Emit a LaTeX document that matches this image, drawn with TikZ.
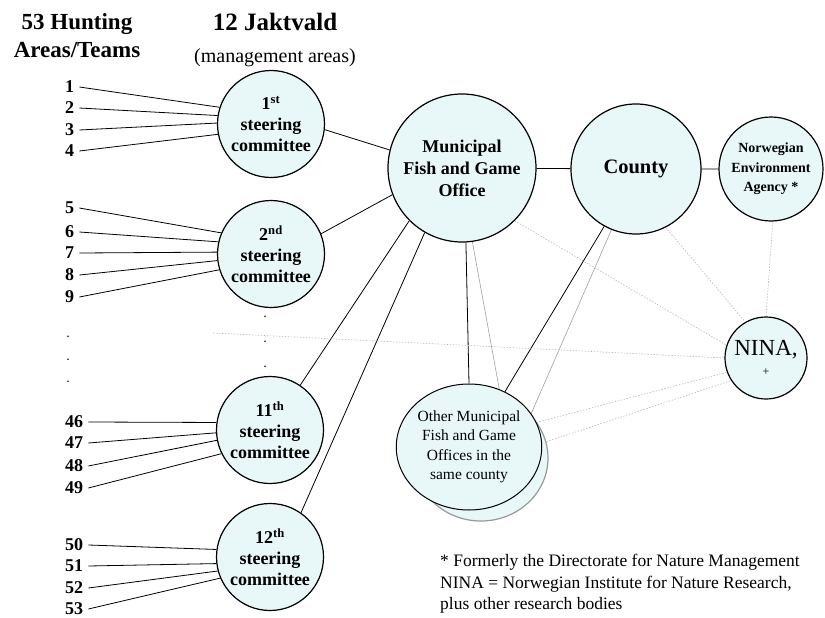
\documentclass[tikz,border=0pt]{standalone}
\usepackage{fontspec}
\setmainfont{Liberation Serif}
\usetikzlibrary{shapes.geometric, backgrounds}
\definecolor{paleblue}{RGB}{232,247,248}

\begin{document}
\begin{tikzpicture}[x = 1pt, y = -1pt,
    org/.style = {shape = circle, draw, fill = paleblue, line width = 1.2pt,
                  inner sep = 0pt, align = center},
    committee/.style = {org, minimum size = 107pt,
                  font = \fontsize{18}{21}\selectfont\bfseries},
    num/.style = {anchor = west, inner xsep = 5pt, inner ysep = 1pt,
                  font = \fontsize{18}{20}\selectfont\bfseries},
    link/.style = {line width = 0.8pt},
    faint/.style = {draw = gray!75, line width = 0.6pt},
    info/.style = {draw = gray!55, line width = 0.6pt,
                   dash pattern = on 1.5pt off 1.5pt}]
  \useasboundingbox (0, 0) rectangle (825, 618);

  % headings
  \node (hunt) at (77, 36) [align = center,
        font = \fontsize{23}{28}\selectfont\bfseries] {53 Hunting\\Areas/Teams};
  \node (jakt) at (275, 22) [font = \fontsize{25}{28}\selectfont\bfseries] {12 Jaktvald};
  \node (mgmt) at (275, 58) [font = \fontsize{20}{22}\selectfont] {(management areas)};

  % steering committees
  \node [committee] (c1)  at (271, 124) {1\textsuperscript{st}\\steering\\committee};
  \node [committee] (c2)  at (271, 254) {2\textsuperscript{nd}\\steering\\committee};
  \node [committee] (c11) at (270, 430) {11\textsuperscript{th}\\steering\\committee};
  \node [committee] (c12) at (270, 557) {12\textsuperscript{th}\\steering\\committee};

  \node [font = \bfseries] (d1) at (265, 317) {.};
  \node [font = \bfseries] (d2) at (265, 342) {.};
  \node [font = \bfseries] (d3) at (265, 367) {.};
  \node [font = \bfseries] (e1) at (68, 337) {.};
  \node [font = \bfseries] (e2) at (68, 360) {.};
  \node [font = \bfseries] (e3) at (68, 382) {.};
  \coordinate (gap) at (213, 333);

  % offices
  \node [org, minimum size = 148pt, font = \fontsize{18}{22}\selectfont\bfseries]
        (muni) at (462, 168) {Municipal\\Fish and Game\\Office};
  \node [org, minimum size = 130pt, font = \fontsize{20.5}{24}\selectfont\bfseries]
        (county) at (636, 169) {County};
  \node [org, minimum size = 104pt, font = \fontsize{14}{19.5}\selectfont\bfseries]
        (norw) at (771, 169) {Norwegian\\Environment\\Agency *};
  \node [org, minimum size = 82pt, font = \fontsize{23}{24}\selectfont]
        (nina) at (766, 358) {NINA,\\[-4pt]{\fontsize{12}{12}\selectfont +}};
  \node [org, shape = ellipse, draw = gray!80, minimum width = 134pt, minimum height = 126pt]
        (back) at (481, 458) {};
  \node [org, shape = ellipse, minimum width = 134pt, minimum height = 126pt,
         line width = 1pt, font = \fontsize{15.5}{19.5}\selectfont]
        (other) at (469, 447) {Other Municipal\\Fish and Game\\Offices in the\\same county};

  % hunting areas
  \node [num] (n1)  at (60, 87)  {1};
  \node [num] (n2)  at (60, 108) {2};
  \node [num] (n3)  at (60, 130) {3};
  \node [num] (n4)  at (60, 151) {4};
  \node [num] (n5)  at (60, 208) {5};
  \node [num] (n6)  at (60, 232) {6};
  \node [num] (n7)  at (60, 253) {7};
  \node [num] (n8)  at (60, 275) {8};
  \node [num] (n9)  at (60, 297) {9};
  \node [num] (n46) at (60, 422) {46};
  \node [num] (n47) at (60, 443) {47};
  \node [num] (n48) at (60, 466) {48};
  \node [num] (n49) at (60, 488) {49};
  \node [num] (n50) at (60, 545) {50};
  \node [num] (n51) at (60, 566) {51};
  \node [num] (n52) at (60, 588) {52};
  \node [num] (n53) at (60, 609) {53};

  % footnote
  \node [anchor = north west, align = left, inner sep = 0pt,
         font = \fontsize{17.5}{21.5}\selectfont] (note) at (440, 554)
        {* Formerly the Directorate for Nature Management\\
         NINA = Norwegian Institute for Nature Research,\\
         plus other research bodies};

  \begin{pgfonlayer}{background}
    \draw [link] (n1.east) -- (c1.162)
                 (n2.east) -- (c1.171)
                 (n3.east) -- (c1.179)
                 (n4.east) -- (c1.191)
                 (n5.east) -- (c2.157)
                 (n6.east) -- (c2.167)
                 (n7.east) -- (c2.178)
                 (n8.east) -- (c2.187)
                 (n9.east) -- (c2.197)
                 (n46.east) -- (c11.172)
                 (n47.east) -- (c11.183)
                 (n48.east) -- (c11.191)
                 (n49.east) -- (c11.206)
                 (n50.east) -- (c12.172)
                 (n51.east) -- (c12.187)
                 (n52.east) -- (c12.195)
                 (n53.east) -- (c12.203);
    \draw [link] (c1.354) -- (muni.166)
                 (c2.22) -- (muni.201)
                 (c11.56) -- (muni.225)
                 (c12.55) -- (muni.240)
                 (muni) -- (county)
                 (county) -- (norw)
                 (muni.273) -- (other.north)
                 (county.241) -- (other.57);
    \draw [faint] (muni.278) -- (back.72)
                  (county.248) -- (back.41);
    \draw [info] (muni.315) -- (nina.162)
                 (county.297) -- (nina.120)
                 (norw.272) -- (nina.north)
                 (gap) -- (nina.180)
                 (other.20) -- (nina.200)
                 (back.14) -- (nina.213);
  \end{pgfonlayer}
\end{tikzpicture}
\end{document}
